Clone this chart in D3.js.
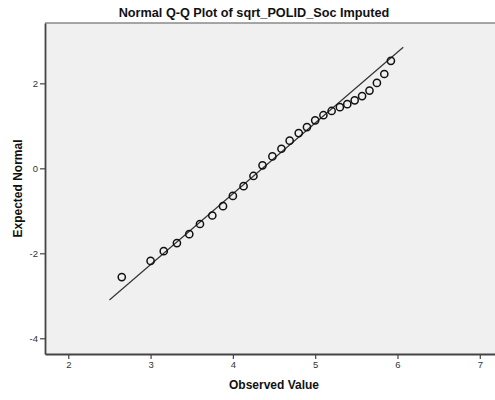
<!DOCTYPE html>
<html>
<head>
<meta charset="utf-8">
<script src="https://cdn.jsdelivr.net/npm/d3@7/dist/d3.min.js"></script>
<style>
  html, body { margin: 0; padding: 0; background: #ffffff; }
  svg { display: block; }
</style>
</head>
<body>
<div id="chart"></div>
<script>
'use strict';

// ─── DATA ────────────────────────────────────────────────────

var observed = [2.65, 3.00, 3.16, 3.32, 3.47, 3.60, 3.75, 3.88, 4.00, 4.13,
                4.25, 4.36, 4.48, 4.59, 4.69, 4.80, 4.90, 5.00, 5.10, 5.20,
                5.30, 5.39, 5.48, 5.57, 5.66, 5.75, 5.84, 5.92];
var expected = [-2.56, -2.18, -1.95, -1.76, -1.55, -1.31, -1.11, -0.89, -0.65, -0.42,
                -0.18, 0.07, 0.28, 0.46, 0.65, 0.83, 0.97, 1.13, 1.25, 1.35,
                1.44, 1.51, 1.60, 1.70, 1.83, 2.01, 2.22, 2.53];
var refLineX = [2.50, 6.07];
var refLineY = [-3.10, 2.85];
var xTicks = [2, 3, 4, 5, 6, 7];
var yTicks = [-4, -2, 0, 2];

// ─── LAYOUT ──────────────────────────────────────────────────

var W = 495, H = 400;
var plot = { left: 45, top: 23, right: 495, bottom: 354 };
var FONT = 'Liberation Sans, Arial, sans-serif';

var svg = d3.select('#chart').append('svg')
    .attr('width', W)
    .attr('height', H);

var x = d3.scaleLinear().domain([1.717, 7.185]).range([plot.left, plot.right]);
var y = d3.scaleLinear().domain([-4.37, 3.42]).range([plot.bottom, plot.top]);

// plot background
svg.append('rect')
    .attr('x', plot.left)
    .attr('y', plot.top)
    .attr('width', plot.right - plot.left)
    .attr('height', plot.bottom - plot.top)
    .attr('fill', '#f0f0f0');

// top frame line
svg.append('line')
    .attr('x1', plot.left).attr('x2', plot.right)
    .attr('y1', plot.top).attr('y2', plot.top)
    .attr('stroke', '#8a8a8a')
    .attr('stroke-width', 1.5);

// ─── TITLE ───────────────────────────────────────────────────

svg.append('text')
    .attr('x', 254)
    .attr('y', 17)
    .attr('text-anchor', 'middle')
    .attr('font-family', FONT)
    .attr('font-size', 12.7)
    .attr('font-weight', 'bold')
    .attr('fill', '#111')
    .text('Normal Q-Q Plot of sqrt_POLID_Soc Imputed');

// ─── AXES ────────────────────────────────────────────────────

// plain hyphen for negatives, like the source chart
var fmt = function(d) { return String(d); };

var xAxis = svg.append('g')
    .attr('transform', 'translate(0,' + plot.bottom + ')')
    .call(d3.axisBottom(x).tickValues(xTicks).tickFormat(fmt)
        .tickSize(5).tickSizeOuter(0).tickPadding(2));

var yAxis = svg.append('g')
    .attr('transform', 'translate(' + plot.left + ',0)')
    .call(d3.axisLeft(y).tickValues(yTicks).tickFormat(fmt)
        .tickSize(5).tickSizeOuter(0).tickPadding(2));

[xAxis, yAxis].forEach(function(ax) {
    ax.select('.domain').attr('stroke', '#444').attr('stroke-width', 1.8);
    ax.selectAll('.tick line').attr('stroke', '#444').attr('stroke-width', 1.2);
    ax.selectAll('.tick text')
        .attr('font-family', FONT)
        .attr('font-size', 9.5)
        .attr('fill', '#333');
});

svg.append('text')
    .attr('x', 274)
    .attr('y', 389)
    .attr('text-anchor', 'middle')
    .attr('font-family', FONT)
    .attr('font-size', 12)
    .attr('font-weight', 'bold')
    .attr('fill', '#111')
    .text('Observed Value');

svg.append('text')
    .attr('transform', 'translate(22,' + (plot.top + plot.bottom) / 2 + ') rotate(-90)')
    .attr('text-anchor', 'middle')
    .attr('font-family', FONT)
    .attr('font-size', 12)
    .attr('font-weight', 'bold')
    .attr('fill', '#111')
    .text('Expected Normal');

// ─── REFERENCE LINE ──────────────────────────────────────────

svg.append('line')
    .attr('x1', x(refLineX[0])).attr('y1', y(refLineY[0]))
    .attr('x2', x(refLineX[1])).attr('y2', y(refLineY[1]))
    .attr('stroke', '#333')
    .attr('stroke-width', 1.2);

// ─── POINTS ──────────────────────────────────────────────────

svg.append('g')
    .selectAll('circle')
    .data(observed)
    .enter()
    .append('circle')
    .attr('cx', function(d) { return x(d); })
    .attr('cy', function(d, i) { return y(expected[i]); })
    .attr('r', 3.6)
    .attr('fill', 'none')
    .attr('stroke', '#111')
    .attr('stroke-width', 1.5);
</script>
</body>
</html>
